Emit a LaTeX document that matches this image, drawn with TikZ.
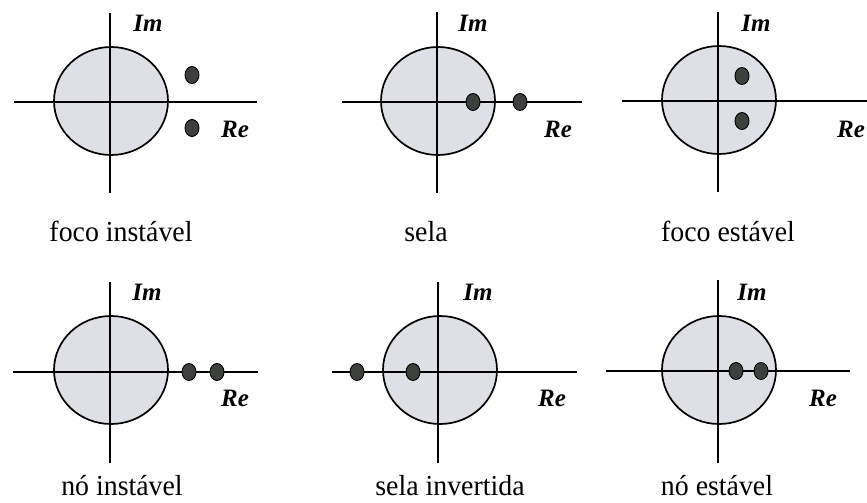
\documentclass[tikz,border=0pt]{standalone}
\usepackage{fontspec}
\setmainfont{Liberation Serif}
\usepackage{tikz}
\usetikzlibrary{shapes.geometric}

\definecolor{discgray}{RGB}{223,224,230}
\definecolor{polegray}{RGB}{62,64,62}

\tikzset{
  axis/.style = {line width=1.8pt},
  disc/.style = {draw, line width=1.7pt, fill=discgray},
  pole/.style = {ellipse, draw, line width=0.9pt, fill=polegray, inner sep=0pt,
                 minimum width=14pt, minimum height=17pt},
  lbl/.style  = {font=\fontsize{25}{27}\selectfont\bfseries\itshape, inner sep=0pt, anchor=base},
  capt/.style = {font=\fontsize{29}{31}\selectfont, xscale=0.96, inner sep=0pt, anchor=base}
}

\begin{document}
\begin{tikzpicture}[x=1pt,y=-1pt]
\useasboundingbox (0,0) rectangle (867,503);

% foco instavel
\draw [disc] (111,101) ellipse [x radius=57, y radius=54];
\draw [axis] (110,13) -- (110,193);
\draw [axis] (14,102) -- (257,102);
\node [pole] (fi1) at (192,75) {};
\node [pole] (fi2) at (192,128) {};
\node [lbl] (fiIm) at (148,32) {Im};
\node [lbl] (fiRe) at (235,137) {Re};
\node [capt] (fiCap) at (121,241) {foco instável};

% sela
\draw [disc] (438,101) ellipse [x radius=57, y radius=54];
\draw [axis] (437,12) -- (437,193);
\draw [axis] (342,102) -- (582,102);
\node [pole] (se1) at (473,102) {};
\node [pole] (se2) at (520,102) {};
\node [lbl] (seIm) at (473,32) {Im};
\node [lbl] (seRe) at (558,137) {Re};
\node [capt] (seCap) at (426,241) {sela};

% foco estavel
\draw [disc] (719,100) ellipse [x radius=57, y radius=54];
\draw [axis] (718,12) -- (718,192);
\draw [axis] (622,101) -- (867,101);
\node [pole] (fe1) at (742,76) {};
\node [pole] (fe2) at (742,121) {};
\node [lbl] (feIm) at (756,32) {Im};
\node [lbl] (feRe) at (851,137) {Re};
\node [capt] (feCap) at (728,241) {foco estável};

% no instavel
\draw [disc] (111,370) ellipse [x radius=57, y radius=54];
\draw [axis] (110,282) -- (110,463);
\draw [axis] (13,372) -- (258,372);
\node [pole] (ni1) at (189,372) {};
\node [pole] (ni2) at (217,372) {};
\node [lbl] (niIm) at (147,300) {Im};
\node [lbl] (niRe) at (235,406) {Re};
\node [capt] (niCap) at (122,495) {nó instável};

% sela invertida
\draw [disc] (440,370) ellipse [x radius=57, y radius=54];
\draw [axis] (438,282) -- (438,463);
\draw [axis] (332,372) -- (577,372);
\node [pole] (si1) at (357,372) {};
\node [pole] (si2) at (413,372) {};
\node [lbl] (siIm) at (478,300) {Im};
\node [lbl] (siRe) at (552,406) {Re};
\node [capt] (siCap) at (450,495) {sela invertida};

% no estavel
\draw [disc] (719,370) ellipse [x radius=57, y radius=54];
\draw [axis] (718,280) -- (718,463);
\draw [axis] (606,371) -- (850,371);
\node [pole] (ne1) at (736,371) {};
\node [pole] (ne2) at (761,371) {};
\node [lbl] (neIm) at (752,300) {Im};
\node [lbl] (neRe) at (823,406) {Re};
\node [capt] (neCap) at (717,495) {nó estável};
\end{tikzpicture}
\end{document}
